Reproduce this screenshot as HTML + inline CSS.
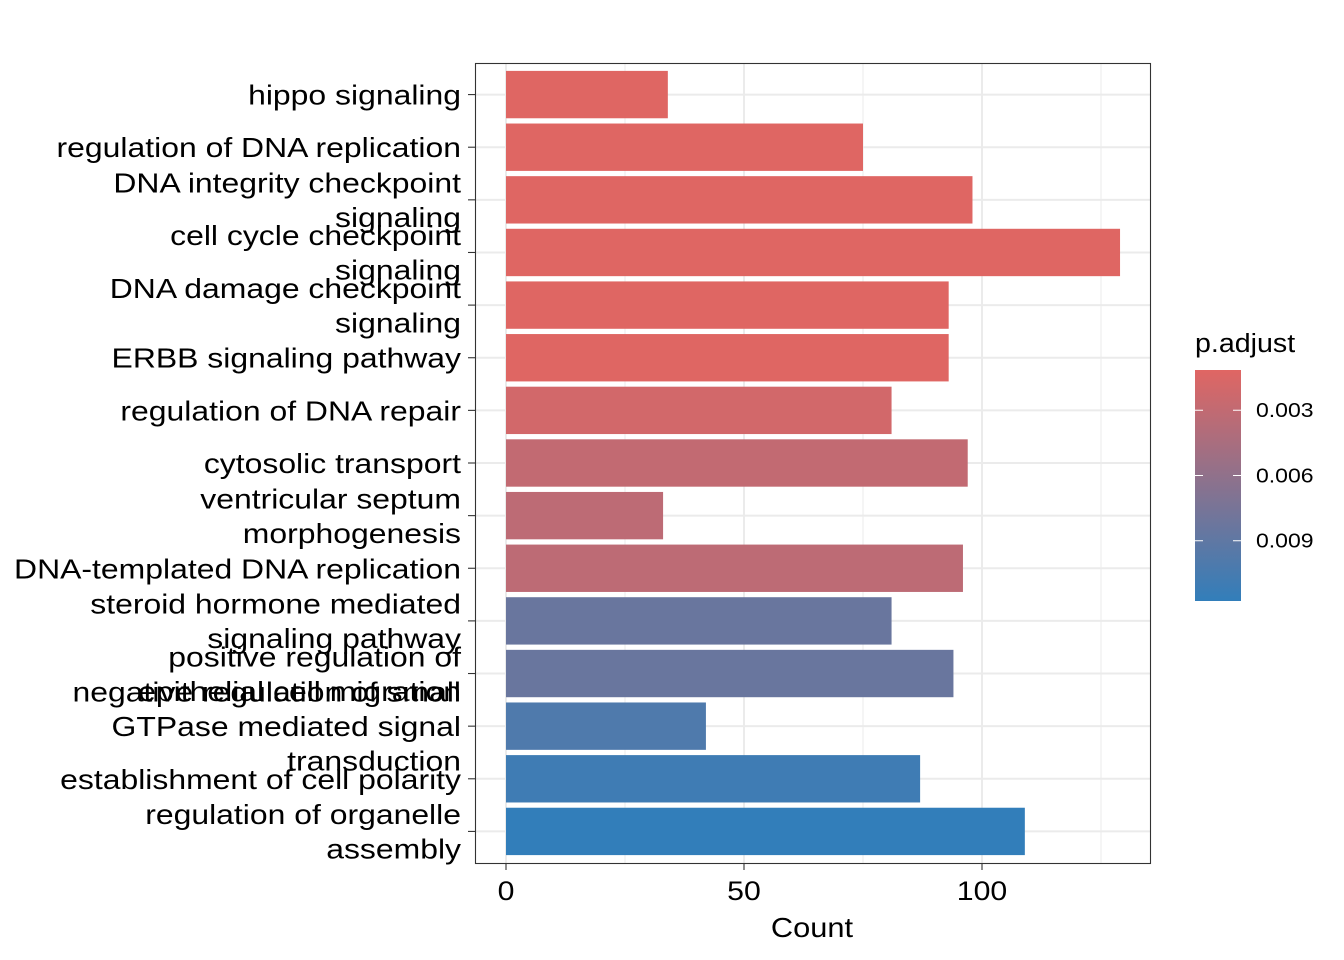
<!DOCTYPE html>
<html><head><meta charset="utf-8"><style>
html,body{margin:0;padding:0;background:#fff;}
svg{display:block;font-family:"Liberation Sans",Arial,sans-serif;}
</style></head><body>
<svg id="chart" width="1344" height="960" viewBox="0 0 1344 960">
<defs><linearGradient id="lg" x1="0" y1="0" x2="0" y2="1"><stop offset="0" stop-color="#E06663"/><stop offset="1" stop-color="#327EBA"/></linearGradient></defs>
<rect x="0" y="0" width="1344" height="960" fill="#fff"/>
<g id="grid"></g><g id="bars"></g><g id="ylabels"></g><g id="xaxis"></g>
<rect x="475.5" y="63.5" width="675" height="800" fill="none" stroke="#333" stroke-width="1.1"/>
<text transform="translate(812,937) scale(1.1,1)" font-size="28" text-anchor="middle" fill="#000">Count</text>
<g>
<text transform="translate(1195,352) scale(1.1,1)" font-size="26" fill="#000">p.adjust</text>
<rect x="1195" y="370" width="46" height="231" fill="url(#lg)"/>
<g id="legticks"></g>
</g>
</svg>
<script>
const categories=["hippo signaling","regulation of DNA replication","DNA integrity checkpoint|signaling","cell cycle checkpoint|signaling","DNA damage checkpoint|signaling","ERBB signaling pathway","regulation of DNA repair","cytosolic transport","ventricular septum|morphogenesis","DNA-templated DNA replication","steroid hormone mediated|signaling pathway","positive regulation of|epithelial cell migration","negative regulation of small|GTPase mediated signal|transduction","establishment of cell polarity","regulation of organelle|assembly"];
const counts=[34,75,98,129,93,93,81,97,33,96,81,94,42,87,109];
const padj=[0.0012,0.0012,0.0012,0.0012,0.0012,0.0012,0.0020,0.0030,0.0033,0.0033,0.0084,0.0084,0.0100,0.0110,0.01177];
const xTicks=[0,50,100];
const xMinor=[25,75,125];
const legTicks=[0.003,0.006,0.009];
const pMin=0.00115,pMax=0.01177;
const NS="http://www.w3.org/2000/svg";
function mk(t,a,p){const e=document.createElementNS(NS,t);for(const k in a)e.setAttribute(k,a[k]);p.appendChild(e);return e;}
const X=v=>506+v*4.76;
const step=800/(categories.length+0.2);
const Y=i=>63+step*(0.6+i);
const L=p=>370+(p-pMin)/(pMax-pMin)*231;
function col(p){const t=Math.max(0,Math.min(1,(p-pMin)/(pMax-pMin)));const a=[224,102,99],b=[50,126,186];return "rgb("+a.map((v,i)=>Math.round(v+(b[i]-v)*t)).join(",")+")";}
const grid=document.getElementById('grid'),bars=document.getElementById('bars'),yl=document.getElementById('ylabels'),xa=document.getElementById('xaxis'),lt=document.getElementById('legticks');
xMinor.forEach(v=>{const e=mk('line',{x1:X(v),x2:X(v),y1:63,y2:863,stroke:'#ebebeb','stroke-width':1},grid);

});
xTicks.forEach(v=>{const e=mk('line',{x1:X(v),x2:X(v),y1:63,y2:863,stroke:'#ebebeb','stroke-width':2},grid);


const tk=mk('line',{x1:X(v),x2:X(v),y1:863,y2:870,stroke:'#333','stroke-width':1.1},xa);


const t=mk('text',{transform:'translate('+X(v)+',900) scale(1.12,1)','font-size':27,'text-anchor':'middle',fill:'#000'},xa);t.textContent=v;

});
categories.forEach((c,i)=>{const y=Y(i);
const g=mk('line',{x1:475,x2:1150,y1:y,y2:y,stroke:'#ebebeb','stroke-width':2},grid);


const r=mk('rect',{x:X(0),y:y-step*0.45,width:X(counts[i])-X(0),height:step*0.9,fill:col(padj[i])},bars);


const tk=mk('line',{x1:468,x2:475,y1:y,y2:y,stroke:'#333','stroke-width':1.1},yl);


const lines=c.split('|');const lh=34.5;
lines.forEach((s,j)=>{const ty=y+10+(j-(lines.length-1)/2)*lh;const t=mk('text',{transform:'translate(461,'+ty+') scale(1.14,1)','font-size':28,'text-anchor':'end',fill:'#000'},yl);t.textContent=s;

});});
legTicks.forEach(p=>{const y=L(p);
mk('line',{x1:1195,x2:1203,y1:y,y2:y,stroke:'#fff','stroke-width':1},lt);
mk('line',{x1:1233,x2:1241,y1:y,y2:y,stroke:'#fff','stroke-width':1},lt);
const t=mk('text',{transform:'translate(1256,'+(y+7)+') scale(1.15,1)','font-size':20,fill:'#000'},lt);t.textContent=p.toFixed(3);

});
</script>
</body></html>
